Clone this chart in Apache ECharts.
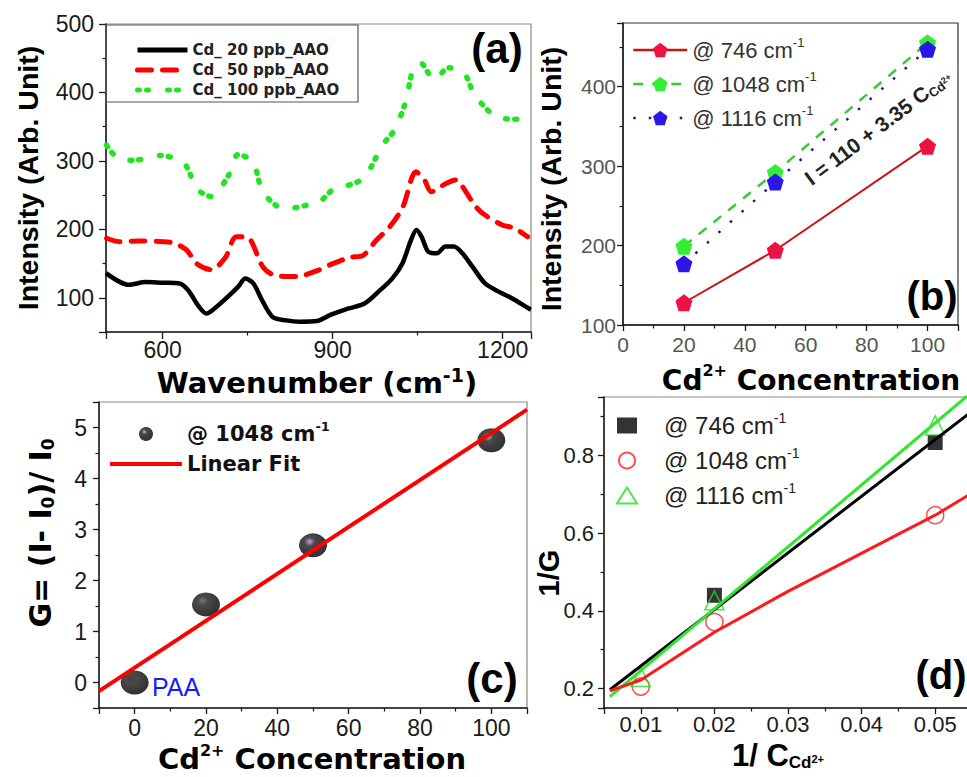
<!DOCTYPE html>
<html>
<head>
<meta charset="utf-8">
<title>Cd2+ SERS panels</title>
<script src="https://cdn.jsdelivr.net/npm/echarts@6.0.0/dist/echarts.min.js"></script>
<style>
    html, body { margin: 0; padding: 0; background: #fff; }
    #main { width: 967px; height: 777px; }
</style>
</head>
<body>
<div id="main"></div>
<script>
    const ARIAL = 'Liberation Sans';
    const DEJAVU = 'DejaVu Sans';

    // (a) spectra: wavenumber / intensity
    const wn20 = [500, 540, 570, 600, 630, 645, 664, 677, 691, 709, 733, 746, 760, 775, 794, 818, 842, 872, 896, 927, 957, 981, 1005, 1023, 1038, 1048, 1057, 1069, 1084, 1099, 1114, 1129, 1147, 1169, 1193, 1217, 1247, 1250];
    const int20 = [136, 119, 123, 122, 121, 111, 87, 77, 84, 97, 116, 128, 121, 97, 72, 67, 65, 66, 75, 84, 92, 109, 128, 150, 184, 199, 189, 167, 165, 175, 175, 165, 145, 121, 109, 99, 84, 83];
    const wn50 = [501, 524, 559, 601, 619, 642, 660, 686, 710, 730, 748, 777, 797, 836, 877, 895, 930, 954, 977, 1001, 1024, 1047, 1062, 1074, 1100, 1118, 1127, 1150, 1165, 1200, 1220, 1244];
    const int50 = [187, 182, 183, 182, 180, 170, 150, 141, 158, 189, 189, 145, 133, 131, 141, 148, 159, 162, 184, 204, 233, 284, 272, 255, 267, 272, 265, 236, 223, 206, 202, 189];
    const wn100 = [501, 527, 548, 586, 595, 630, 642, 662, 686, 715, 733, 759, 777, 812, 827, 859, 874, 903, 918, 950, 965, 988, 1009, 1029, 1041, 1055, 1079, 1105, 1132, 1150, 1179, 1197, 1229, 1247];
    const int100 = [323, 301, 301, 306, 308, 301, 292, 258, 248, 277, 309, 299, 255, 231, 231, 236, 238, 260, 262, 272, 287, 323, 345, 387, 431, 443, 419, 436, 428, 397, 370, 362, 361, 362];

    // (b) peak intensity vs concentration
    const bConc = [20, 50, 100];
    const b746 = [128, 194, 325];
    const b1048 = [199, 292, 455];
    const b1116 = [177, 280, 447];

    // (c) G vs concentration + fit
    const cConc = [0, 20, 50, 100];
    const cG = [0, 1.53, 2.69, 4.75];
    const cFitX = [-10, 110];
    const cFitY = [-0.17, 5.35];

    // (d) 1/G vs 1/C
    const dInvC = [0.01, 0.02, 0.05];
    const d746X = [0.02, 0.05];
    const d746Y = [0.44, 0.833];
    const d1048Y = [0.205, 0.371, 0.646];
    const d1116Y = [0.23, 0.427, 0.877];
    const d746FitX = [0.0058, 0.055];
    const d746FitY = [0.197, 0.913];
    const d1116FitX = [0.0058, 0.0545];
    const d1116FitY = [0.179, 0.955];
    const d1048FitX = [0.0058, 0.01, 0.02, 0.03, 0.05, 0.055];
    const d1048FitY = [0.194, 0.222, 0.345, 0.45, 0.646, 0.703];

    // tick labels
    const aXTicks = ['600', '900', '1200'];
    const aYTicks = ['100', '200', '300', '400', '500'];
    const bXTicks = ['0', '20', '40', '60', '80', '100'];
    const bYTicks = ['100', '200', '300', '400'];
    const cXTicks = ['0', '20', '40', '60', '80', '100'];
    const cYTicks = ['0', '1', '2', '3', '4', '5'];
    const dXTicks = ['0.01', '0.02', '0.03', '0.04', '0.05'];
    const dYTicks = ['0.2', '0.4', '0.6', '0.8'];

    const LEGEND_TEXT = {
        a20: 'Cd_ 20 ppb_AAO', a50: 'Cd_ 50 ppb_AAO', a100: 'Cd_ 100 ppb_AAO',
        b746: '@ 746 cm{s|-1}', b1048: '@ 1048 cm{s|-1}', b1116: '@ 1116 cm{s|-1}',
        cData: '@ 1048 cm{s|-1}', cFit: 'Linear Fit',
        d746: '{g| }@ 746 cm{s|-1}', d1048: '{g| }@ 1048 cm{s|-1}', d1116: '{g| }@ 1116 cm{s|-1}'
    };

    const zip = (xs, ys) => xs.map((x, i) => [x, ys[i]]);
    const NOSYM = { color: 'rgba(0,0,0,0)', borderWidth: 0 };

    function showOnly(list) {
        return function (v) {
            for (const s of list) {
                if (Math.abs(Number(s) - v) < 1e-9) return s;
            }
            return '';
        };
    }

    function makeAxis(grid, min, max, split, ticks, lab, tickLen) {
        return {
            type: 'value', gridIndex: grid, min: min, max: max, splitNumber: split,
            axisLine: { show: true, onZero: false, lineStyle: { color: '#1a1a1a', width: 1.5 } },
            axisTick: { show: true, length: tickLen || 6, lineStyle: { color: '#1a1a1a', width: 1.3 } },
            minorTick: { show: true, splitNumber: 2, length: 3.5, lineStyle: { color: '#1a1a1a', width: 1.2 } },
            splitLine: { show: false },
            minorSplitLine: { show: false },
            axisLabel: Object.assign({
                fontFamily: ARIAL, color: '#1a1a1a', formatter: showOnly(ticks),
                showMinLabel: true, showMaxLabel: true
            }, lab)
        };
    }

    function sphere(shine) {
        return {
            type: 'radial', x: 0.38, y: 0.35, r: 0.62,
            colorStops: [
                { offset: 0, color: shine },
                { offset: 0.3, color: '#1c1c1c' },
                { offset: 1, color: '#000' }
            ]
        };
    }
    const cShine = ['#111', '#555', '#e070e0', '#5fc4c4'];

    const PENT = 'path://M0,-10L9.5,-3.1L5.9,8.1L-5.9,8.1L-9.5,-3.1Z';

    function label(text, x, y, size, opt) {
        opt = opt || {};
        return {
            type: 'text', x: x, y: y, rotation: opt.rot || 0, z: 20,
            style: {
                text: text, fontSize: size, fontWeight: opt.weight || 'bold',
                fontFamily: opt.family || ARIAL, fill: opt.color || '#000',
                align: opt.align || 'center', verticalAlign: 'middle',
                rich: opt.rich
            }
        };
    }

    const supTitle = (fam, size, supSize, lh) => ({
        m: { fontFamily: fam, fontWeight: 'bold', fontSize: size, lineHeight: lh, fill: '#000' },
        s: { fontFamily: fam, fontWeight: 'bold', fontSize: supSize, lineHeight: supSize, verticalAlign: 'top', fill: '#000' }
    });

    let chart = echarts.init(document.getElementById('main'), null, { renderer: 'svg' });

    chart.setOption({
        animation: false,
        backgroundColor: '#fff',
        grid: [
            { left: 106, top: 24, width: 425, height: 308, show: true, borderColor: '#8a8a8a', borderWidth: 1.2, outerBoundsMode: 'none' },
            { left: 623, top: 23, width: 335, height: 302, show: true, borderColor: '#333', borderWidth: 1.2, outerBoundsMode: 'none' },
            { left: 99, top: 402, width: 428, height: 306, show: true, borderColor: '#8a8a8a', borderWidth: 1.2, outerBoundsMode: 'none' },
            { left: 604, top: 397, width: 368, height: 311, show: true, borderColor: '#8a8a8a', borderWidth: 1.2, outerBoundsMode: 'none' }
        ],
        xAxis: [
            makeAxis(0, 500, 1250, 2, aXTicks, { fontSize: 23, margin: 6 }, 7),
            makeAxis(1, 0, 110, 5, bXTicks, { fontSize: 21, margin: 9, color: '#555' }),
            makeAxis(2, -10, 110, 6, cXTicks, { fontSize: 23, margin: 8 }),
            makeAxis(3, 0.005, 0.055, 5, dXTicks, { fontSize: 22, margin: 5 })
        ],
        yAxis: [
            makeAxis(0, 50, 500, 5, aYTicks, { fontSize: 23, margin: 12 }, 7),
            makeAxis(1, 100, 480, 4, bYTicks, { fontSize: 21, margin: 7, color: '#555' }),
            makeAxis(2, -0.5, 5.5, 6, cYTicks, { fontSize: 23, margin: 12 }),
            makeAxis(3, 0.15, 0.95, 4, dYTicks, { fontSize: 22, margin: 10 })
        ],
        legend: [
            {
                data: ['a20', 'a50', 'a100'], orient: 'vertical', left: 130, top: 36,
                itemWidth: 50, itemHeight: 10, itemGap: 2, selectedMode: false,
                formatter: n => LEGEND_TEXT[n],
                itemStyle: NOSYM,
                lineStyle: { width: 5 },
                textStyle: { fontFamily: DEJAVU, fontWeight: 'bold', fontSize: 15, color: '#222', lineHeight: 18 }
            },
            {
                data: ['b746', 'b1048', 'b1116'], orient: 'vertical', left: 627, top: 31,
                itemWidth: 54, itemHeight: 18, itemGap: 6, selectedMode: false,
                formatter: n => LEGEND_TEXT[n],
                lineStyle: { width: 2.5 },
                textStyle: {
                    fontFamily: ARIAL, fontSize: 22, color: '#333', lineHeight: 28,
                    rich: { s: { fontFamily: ARIAL, fontSize: 13, lineHeight: 12, verticalAlign: 'top', color: '#333' } }
                }
            },
            {
                data: ['cData', { name: 'cFit', itemStyle: NOSYM }], orient: 'vertical', left: 103, top: 415,
                itemWidth: 72, itemHeight: 14, itemGap: 2, selectedMode: false,
                formatter: n => LEGEND_TEXT[n],
                lineStyle: { width: 4 },
                textStyle: {
                    fontFamily: DEJAVU, fontWeight: 'bold', fontSize: 21, color: '#111', lineHeight: 28,
                    rich: { s: { fontFamily: DEJAVU, fontWeight: 'bold', fontSize: 13, lineHeight: 12, verticalAlign: 'top', color: '#111' } }
                }
            },
            {
                data: ['d746', 'd1048', 'd1116'], orient: 'vertical', left: 611, top: 406,
                itemWidth: 20, itemHeight: 16, itemGap: 6, selectedMode: false,
                formatter: n => LEGEND_TEXT[n],
                textStyle: {
                    fontFamily: ARIAL, fontSize: 24, color: '#222', lineHeight: 29,
                    rich: {
                        g: { width: 22 },
                        s: { fontFamily: ARIAL, fontSize: 14, lineHeight: 13, verticalAlign: 'top', color: '#222' }
                    }
                }
            }
        ],
        series: [
            // (a)
            { name: 'a20', type: 'line', xAxisIndex: 0, yAxisIndex: 0, data: zip(wn20, int20), symbol: 'none', smooth: 0.3,
              lineStyle: { color: '#000', width: 4.5 }, itemStyle: { color: '#000' } },
            { name: 'a50', type: 'line', xAxisIndex: 0, yAxisIndex: 0, data: zip(wn50, int50), symbol: 'none', smooth: 0.3,
              lineStyle: { color: '#ff0000', width: 5, type: [14, 11], cap: 'round' }, itemStyle: { color: '#ff0000' } },
            { name: 'a100', type: 'line', xAxisIndex: 0, yAxisIndex: 0, data: zip(wn100, int100), symbol: 'none', smooth: 0.3,
              lineStyle: { color: '#22e522', width: 5.5, type: [2, 7, 2, 19], cap: 'round' }, itemStyle: { color: '#22e522' } },
            // (b)
            { name: 'b746', type: 'line', xAxisIndex: 1, yAxisIndex: 1, data: zip(bConc, b746), symbol: PENT, symbolSize: 17,
              lineStyle: { color: '#cc1414', width: 2 }, itemStyle: { color: '#ee1144' } },
            { name: 'b1048', type: 'line', xAxisIndex: 1, yAxisIndex: 1, data: zip(bConc, b1048), symbol: PENT, symbolSize: 17,
              lineStyle: { color: '#33cc33', width: 2.5, type: [10, 9] }, itemStyle: { color: '#33ee33' } },
            { name: 'b1116', type: 'line', xAxisIndex: 1, yAxisIndex: 1, data: zip(bConc, b1116), symbol: PENT, symbolSize: 17,
              lineStyle: { color: '#1a1a8c', width: 2.5, type: [2.5, 13] }, itemStyle: { color: '#2a16e6' } },
            // (c)
            { name: 'cData', type: 'scatter', xAxisIndex: 2, yAxisIndex: 2, symbol: 'circle', symbolSize: [28, 24],
              data: cConc.map((x, i) => ({ value: [x, cG[i]], itemStyle: { color: sphere(cShine[i]) } })),
              itemStyle: { color: sphere('#5fc4c4') } },
            { name: 'cFit', type: 'line', xAxisIndex: 2, yAxisIndex: 2, data: zip(cFitX, cFitY), symbol: 'none',
              lineStyle: { color: '#ff0000', width: 4 }, itemStyle: { color: '#ff0000' } },
            // (d)
            { name: 'd746fit', type: 'line', xAxisIndex: 3, yAxisIndex: 3, data: zip(d746FitX, d746FitY), symbol: 'none',
              lineStyle: { color: '#000', width: 3 } },
            { name: 'd1116fit', type: 'line', xAxisIndex: 3, yAxisIndex: 3, data: zip(d1116FitX, d1116FitY), symbol: 'none',
              lineStyle: { color: '#2ee62e', width: 3 } },
            { name: 'd1048fit', type: 'line', xAxisIndex: 3, yAxisIndex: 3, data: zip(d1048FitX, d1048FitY), symbol: 'none',
              lineStyle: { color: '#ff1a1a', width: 3 } },
            { name: 'd746', type: 'scatter', xAxisIndex: 3, yAxisIndex: 3, data: zip(d746X, d746Y), symbol: 'rect', symbolSize: 15,
              itemStyle: { color: '#000' } },
            { name: 'd1048', type: 'scatter', xAxisIndex: 3, yAxisIndex: 3, data: zip(dInvC, d1048Y), symbol: 'circle', symbolSize: 17,
              itemStyle: { color: 'rgba(255,255,255,0)', borderColor: '#ff2222', borderWidth: 1.5 } },
            { name: 'd1116', type: 'scatter', xAxisIndex: 3, yAxisIndex: 3, data: zip(dInvC, d1116Y), symbol: 'triangle', symbolSize: 19,
              itemStyle: { color: 'rgba(255,255,255,0)', borderColor: '#22dd22', borderWidth: 1.5 } }
        ],
        graphic: [
            { type: 'rect', shape: { x: 106, y: 25, width: 252, height: 77 }, style: { fill: 'none', stroke: '#555', lineWidth: 1.2 }, z: 5 },
            label('(a)', 497, 48, 42),
            label('(b)', 932, 296, 40),
            label('(c)', 492, 678, 42),
            label('(d)', 941, 675, 40),
            label('Intensity (Arb. Unit)', 28, 178, 28.5, { rot: Math.PI / 2 }),
            label('{m|Wavenumber (cm}{s|-1}{m|)}', 317, 383, 29, { rich: supTitle(DEJAVU, 29, 19, 36) }),
            label('Intensity (Arb. Unit)', 551, 179, 28.5, { rot: Math.PI / 2 }),
            label('{m|Cd}{s|2+}{m| Concentration}', 811, 380, 28, { rich: supTitle(DEJAVU, 28, 16, 36) }),
            label('{m|I = 110 + 3.35 C}{b|Cd}{t|2+}', 878, 127, 21, {
                rot: 37 * Math.PI / 180, color: '#222',
                rich: {
                    m: { fontFamily: ARIAL, fontWeight: 'bold', fontSize: 21, lineHeight: 24, fill: '#222' },
                    b: { fontFamily: ARIAL, fontWeight: 'bold', fontSize: 13, lineHeight: 13, padding: [20, 0, 0, 0], verticalAlign: 'bottom', fill: '#222' },
                    t: { fontFamily: ARIAL, fontWeight: 'bold', fontSize: 9, lineHeight: 9, padding: [10, 0, 0, 0], verticalAlign: 'top', fill: '#222' }
                }
            }),
            label('{m|G= (I- I}{b|0}{m|)/ I}{b|0}', 40, 533, 30, {
                rot: Math.PI / 2,
                rich: {
                    m: { fontFamily: DEJAVU, fontWeight: 'bold', fontSize: 30, lineHeight: 32, fill: '#000' },
                    b: { fontFamily: DEJAVU, fontWeight: 'bold', fontSize: 17, lineHeight: 17, verticalAlign: 'bottom', fill: '#000' }
                }
            }),
            label('{m|Cd}{s|2+}{m| Concentration}', 312, 759, 29, { rich: supTitle(DEJAVU, 29, 16, 34) }),
            label('PAA', 152, 687, 25, { weight: 'normal', color: '#1a1aff', align: 'left' }),
            label('1/G', 549, 573, 29, { rot: Math.PI / 2 }),
            label('{m|1/ C}{b|Cd}{t|2+}', 778, 755, 31, {
                rich: {
                    m: { fontFamily: ARIAL, fontWeight: 'bold', fontSize: 31, lineHeight: 32, fill: '#000' },
                    b: { fontFamily: ARIAL, fontWeight: 'bold', fontSize: 17, lineHeight: 17, padding: [20, 0, 0, 0], verticalAlign: 'bottom', fill: '#000' },
                    t: { fontFamily: ARIAL, fontWeight: 'bold', fontSize: 11, lineHeight: 11, padding: [14, 0, 0, 0], verticalAlign: 'top', fill: '#000' }
                }
            })
        ]
    });
</script>
</body>
</html>
